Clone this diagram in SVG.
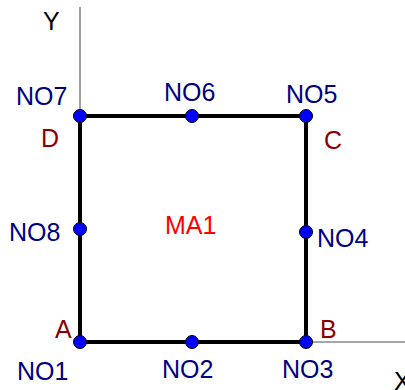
<svg xmlns="http://www.w3.org/2000/svg" width="405" height="390" viewBox="0 0 405 390">
<style>
text{font-family:"Liberation Sans",Arial,sans-serif;font-size:25px}
.no{fill:#000080}
.pt{fill:#8b0000}
.ax{fill:#000}
.ma{fill:#ff0000}
.axis{stroke:#888;stroke-width:1.6;fill:none}
.edge{stroke:#000;stroke-width:4;fill:none;stroke-linecap:square}
.dot{fill:#0000ff;stroke:#000;stroke-width:1}
</style>
<rect width="405" height="390" fill="#fff"/>
<g id="axes">
<line class="axis" x1="80" y1="7" x2="80" y2="342"/>
<line class="axis" x1="80" y1="342" x2="405" y2="342"/>
<text class="ax" x="43" y="30">Y</text>
<text class="ax" x="394" y="390">X</text>
</g>
<g id="connectors">
<line class="edge" x1="80" y1="342" x2="306" y2="342"/>
<line class="edge" x1="306" y1="342" x2="306" y2="116"/>
<line class="edge" x1="306" y1="116" x2="80" y2="116"/>
<line class="edge" x1="80" y1="116" x2="80" y2="342"/>
</g>
<g id="MA1"><text class="ma" x="165" y="234">MA1</text></g>
<g id="A"><text class="pt" x="55" y="338">A</text></g>
<g id="B"><text class="pt" x="320" y="338">B</text></g>
<g id="C"><text class="pt" x="324" y="149">C</text></g>
<g id="D"><text class="pt" x="41" y="147">D</text></g>
<g id="NO1"><circle class="dot" cx="80" cy="342" r="6.5"/><text class="no" x="17" y="380">NO1</text></g>
<g id="NO2"><circle class="dot" cx="192" cy="342" r="6.5"/><text class="no" x="162" y="378">NO2</text></g>
<g id="NO3"><circle class="dot" cx="306" cy="342" r="6.5"/><text class="no" x="282" y="378">NO3</text></g>
<g id="NO4"><circle class="dot" cx="306" cy="232" r="6.5"/><text class="no" x="317" y="247">NO4</text></g>
<g id="NO5"><circle class="dot" cx="306" cy="116" r="6.5"/><text class="no" x="286" y="103">NO5</text></g>
<g id="NO6"><circle class="dot" cx="192" cy="116" r="6.5"/><text class="no" x="164" y="101">NO6</text></g>
<g id="NO7"><circle class="dot" cx="80" cy="116" r="6.5"/><text class="no" x="16" y="105">NO7</text></g>
<g id="NO8"><circle class="dot" cx="80" cy="229" r="6.5"/><text class="no" x="9" y="241">NO8</text></g>
</svg>
